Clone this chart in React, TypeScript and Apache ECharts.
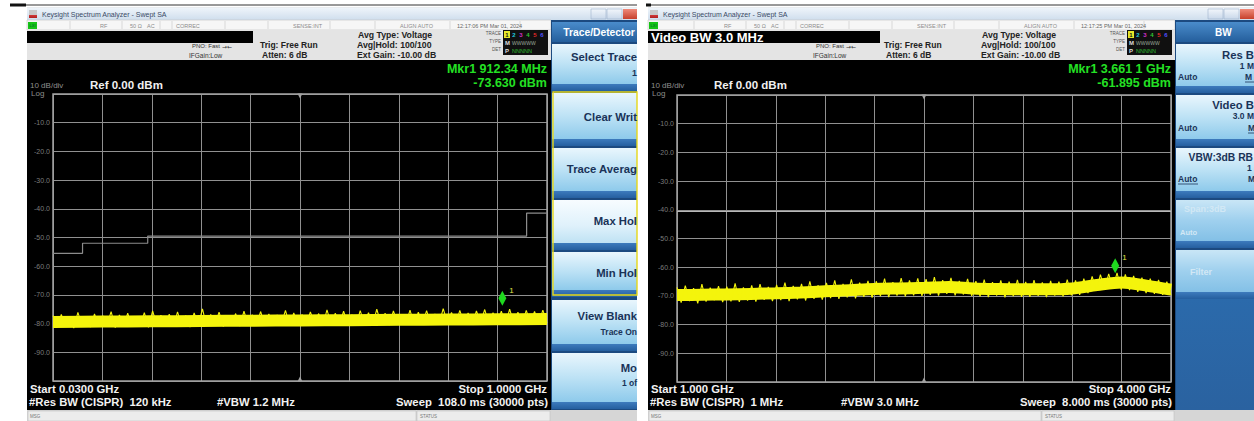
import React, { useEffect, useRef } from 'react';
import * as echarts from 'echarts';

// ---------- DATA ----------
const LEFT_START_MHZ = 30;
const LEFT_STOP_MHZ = 1000;
const RIGHT_START_MHZ = 1000;
const RIGHT_STOP_MHZ = 4000;
const Y_MIN = -100;
const Y_MAX = 0;
const Y_STEP = 10;

// left trace (dBm), evenly spaced sweep points across 30 MHz - 1 GHz
const leftTrace = [
  -77.2, -81.3, -76.8, -80.9, -77.5, -81.6, -76.1, -80.7, -77.9, -81.2,
  -76.6, -81.0, -77.3, -80.5, -75.8, -81.4, -77.0, -80.8, -76.4, -81.1,
  -77.6, -80.6, -76.2, -81.3, -75.6, -80.4, -77.1, -81.0, -76.7, -80.9,
  -75.9, -80.7, -77.2, -81.2, -76.3, -80.5, -74.9, -80.8, -76.8, -80.6,
  -76.0, -81.0, -77.4, -80.3, -76.5, -80.9, -75.7, -80.4, -76.9, -80.7,
  -75.8, -80.2, -76.6, -80.8, -77.0, -80.1, -75.4, -80.6, -76.3, -80.3,
  -76.8, -80.5, -75.9, -80.0, -76.5, -80.7, -75.2, -80.2, -76.4, -80.4,
  -75.7, -80.1, -76.9, -80.6, -75.5, -79.9, -76.2, -80.3, -75.0, -80.0,
  -76.4, -80.5, -75.6, -79.8, -76.7, -80.2, -75.3, -80.4, -76.0, -79.9,
  -75.5, -80.3, -76.6, -80.0, -74.8, -79.7, -76.1, -80.2, -75.4, -79.9,
  -76.3, -80.1, -75.6, -79.6, -75.1, -80.0, -76.2, -79.8, -75.7, -80.1,
  -75.0, -79.7, -76.0, -80.2, -75.4, -79.6, -75.8, -79.9, -75.3, -79.8,
];
// band centre of the left trace at each division (0..10)
const leftTraceMean = [-79.4, -79.3, -79.2, -79.1, -79.0, -78.9, -78.8, -78.7, -78.6, -78.5, -78.4];

// right trace (dBm), evenly spaced sweep points across 1 - 4 GHz
const rightTrace = [
  -67.0, -72.3, -66.4, -71.8, -67.3, -72.6, -65.9, -72.0, -67.1, -71.5, -66.6, -72.2,
  -66.8, -71.9, -65.6, -72.1, -67.0, -71.6, -66.3, -72.0, -65.9, -71.4, -66.9, -71.8,
  -66.2, -71.5, -65.4, -71.8, -66.5, -71.2, -65.8, -71.6, -64.9, -71.0, -66.3, -71.3,
  -65.5, -70.8, -64.6, -71.0, -65.8, -70.5, -64.2, -70.9, -65.4, -70.3, -64.8, -70.6,
  -64.9, -70.1, -64.0, -70.4, -65.2, -69.9, -63.8, -70.2, -64.6, -69.8, -63.9, -70.0,
  -64.2, -69.6, -63.5, -69.9, -64.5, -69.3, -63.7, -69.8, -64.8, -69.5, -64.1, -70.0,
  -64.9, -70.2, -64.3, -70.4, -65.2, -69.9, -64.6, -70.5, -65.0, -70.1, -64.4, -70.3,
  -65.1, -70.3, -64.5, -70.0, -65.3, -70.4, -64.8, -69.9, -65.0, -70.2, -64.3, -69.8,
  -64.6, -69.6, -64.0, -69.0, -63.2, -68.2, -62.6, -67.6, -62.3, -67.4, -62.0, -67.8,
  -62.5, -68.0, -63.0, -68.6, -63.6, -69.0, -64.0, -69.3, -64.4, -69.6, -65.0, -69.8,
];
// band centre of the right trace at each half division (0, 0.5, ... 10)
const rightTraceMean = [
  -69.7, -69.6, -69.5, -69.3, -69.1, -68.8, -68.4, -68.0, -67.6, -67.4, -67.2,
  -66.9, -67.4, -67.6, -67.7, -67.7, -67.4, -66.2, -65.3, -66.4, -67.8,
];

// limit line shown on the left screen (MHz, dBm)
const limitFreqs = [30, 88, 216, 960, 1000];
const limitLevels = [-55.5, -52.0, -49.5, -41.5, -41.5];

const leftMarker = [912.34, -73.63];
const rightMarker = [3661.1, -61.895];
const rightDisplayLine = -40.6;

// ---------- helpers ----------
const FONT = '"Liberation Sans", Arial, sans-serif';

function txt(x: number, y: number, s: string, o: any = {}) {
  const align = o.align || 'left';
  return {
    type: 'text',
    x,
    y,
    z: o.z ?? 20,
    silent: true,
    style: {
      text: s,
      fill: o.color || '#222',
      fontSize: o.size || 8,
      fontWeight: o.weight || 'normal',
      fontFamily: o.family || FONT,
      align,
      verticalAlign: 'middle',
      textAlign: align,
      textVerticalAlign: 'middle',
    },
  };
}
function rect(x: number, y: number, w: number, h: number, fill: any, o: any = {}) {
  return {
    type: 'rect',
    z: o.z ?? -10,
    silent: true,
    shape: { x, y, width: w, height: h },
    style: { fill, stroke: o.stroke || null, lineWidth: o.lineWidth || 0 },
  };
}
function ln(x1: number, y1: number, x2: number, y2: number, stroke: string, w = 1, z = 15) {
  return { type: 'line', z, silent: true, shape: { x1, y1, x2, y2 }, style: { stroke, lineWidth: w } };
}
function vgrad(stops: [number, string][]) {
  return new echarts.graphic.LinearGradient(0, 0, 0, 1, stops.map(([offset, color]) => ({ offset, color })));
}

function windowChrome(p: any) {
  const o = p.o;
  const els: any[] = [];
  // frame + title
  els.push(rect(p.x0, 7, p.x1 - p.x0, 414, '#e9ecef', { z: -30 }));
  els.push(rect(p.x0, 8, p.x1 - p.x0, 12, vgrad([[0, '#eef4fa'], [1, '#cfdeed']]), { z: -29 }));
  els.push(rect(p.x0 + 2, 10, 8, 8, vgrad([[0, '#c8c8c8'], [0.6, '#c8c8c8'], [0.61, '#d23a3a'], [1, '#b02020']]), { z: 5 }));
  els.push(txt(p.x0 + 15, 14, 'Keysight Spectrum Analyzer - Swept SA', { size: 7, color: '#3a4a66' }));
  // window controls
  els.push(rect(p.x1 - 46, 9, 15, 10, vgrad([[0, '#f2f6fb'], [1, '#c9d8ea']]), { z: 5, stroke: '#9fb3cc', lineWidth: 0.6 }));
  els.push(rect(p.x1 - 30, 9, 15, 10, vgrad([[0, '#f2f6fb'], [1, '#c9d8ea']]), { z: 5, stroke: '#9fb3cc', lineWidth: 0.6 }));
  els.push(rect(p.x1 - 14, 9, 14, 10, vgrad([[0, '#ef8a7a'], [1, '#c7402c']]), { z: 5 }));
  // status row
  els.push(rect(p.x0, 20, p.dispR - p.x0, 10, '#f6f6f6', { z: -28, stroke: '#c4c4c4', lineWidth: 0.6 }));
  els.push(rect(p.x0 + 1, 22, 9, 7, '#16c416', { z: 6 }));
  els.push(txt(p.x0 + 5.5, 25.5, 'LXI', { size: 4, color: '#053', align: 'center' }));
  [70, 122, 160, 172, 225, 268, 330, 375, 450, 520].forEach((x) => {
    if (x + o < p.dispR - 2) els.push(ln(x + o, 21, x + o, 29, '#c8c8c8', 0.6, 6));
  });
  const st = { size: 5.5, color: '#8c8c8c' };
  els.push(txt(100 + o, 25.5, 'RF', st));
  els.push(txt(130 + o, 25.5, '50 Ω', st));
  els.push(txt(147 + o, 25.5, 'AC', st));
  els.push(txt(176 + o, 25.5, 'CORREC', st));
  els.push(txt(293 + o, 25.5, 'SENSE:INT', st));
  els.push(txt(400 + o, 25.5, 'ALIGN AUTO', st));
  els.push(txt(457 + o, 25.5, p.time, { size: 5.5, color: '#666' }));
  // gray settings area
  els.push(rect(p.x0, 30, p.dispR - p.x0, 30, '#e4e4e4', { z: -27 }));
  els.push(rect(p.x0, 31, p.blackBarR - p.x0, 12, '#000', { z: -26 }));
  if (p.barText) els.push(txt(p.x0 + 3, 37, p.barText, { size: 13, weight: 'bold', color: '#fff' }));
  els.push(txt(192 + o, 46, 'PNO: Fast', { size: 6, color: '#333' }));
  els.push(txt(222 + o, 46, '→←', { size: 6, color: '#333', family: '"DejaVu Sans", sans-serif' }));
  els.push(txt(189 + o, 55, 'IFGain:Low', { size: 6.5, color: '#333' }));
  els.push(txt(260 + o, 44.5, 'Trig: Free Run', { size: 8.5, weight: 'bold', color: '#222' }));
  els.push(txt(262 + o, 55, 'Atten: 6 dB', { size: 8.5, weight: 'bold', color: '#222' }));
  els.push(txt(358 + o, 35, 'Avg Type: Voltage', { size: 8.7, weight: 'bold', color: '#222' }));
  els.push(txt(357 + o, 44.5, 'Avg|Hold: 100/100', { size: 8.7, weight: 'bold', color: '#222' }));
  els.push(txt(357 + o, 54.5, 'Ext Gain: -10.00 dB', { size: 8.7, weight: 'bold', color: '#222' }));
  // trace box
  els.push(txt(501 + o, 33.5, 'TRACE', { size: 4.5, color: '#555', align: 'right' }));
  els.push(txt(501 + o, 41.5, 'TYPE', { size: 4.5, color: '#555', align: 'right' }));
  els.push(txt(501 + o, 49.5, 'DET', { size: 4.5, color: '#555', align: 'right' }));
  els.push(rect(503 + o, 30, 45, 25, '#101010', { z: 4 }));
  els.push(rect(504 + o, 31, 6, 7, '#e6e62a', { z: 5 }));
  const tc = ['#111', '#22c8dc', '#d030c8', '#30c830', '#e02828', '#5050ff'];
  ['1', '2', '3', '4', '5', '6'].forEach((d, i) => els.push(txt(507 + o + i * 7, 34.5, d, { size: 6, weight: 'bold', color: tc[i], align: 'center' })));
  els.push(txt(505 + o, 42.5, 'M', { size: 6, weight: 'bold', color: '#ddd' }));
  els.push(txt(512 + o, 42.5, 'WWWWW', { size: 5, color: '#9aa89a' }));
  els.push(txt(505 + o, 50.5, 'P', { size: 6, weight: 'bold', color: '#ddd' }));
  els.push(txt(512 + o, 50.5, 'NNNNN', { size: 5.5, color: '#2fbf2f' }));
  // display area
  els.push(rect(p.x0, 60, p.dispR - p.x0, 350, '#000', { z: -25 }));
  els.push(txt(p.mkrR, 69, p.mkr1, { size: 12.5, weight: 'bold', color: '#24e024', align: 'right' }));
  els.push(txt(p.mkrR, 82.5, p.mkr2, { size: 12.5, weight: 'bold', color: '#24e024', align: 'right' }));
  els.push(txt(p.x0 + 3, 85.5, '10 dB/div', { size: 8, color: '#8e8e8e' }));
  els.push(txt(p.x0 + 4, 93.5, 'Log', { size: 8, color: '#8e8e8e' }));
  els.push(txt(90 + o, 85, 'Ref 0.00 dBm', { size: 11.5, weight: 'bold', color: '#f0f0f0' }));
  const bt = { size: 11.3, weight: 'bold', color: '#f2f2f2' };
  els.push(txt(p.x0 + 3, 388.5, p.start, bt));
  els.push(txt(p.x0 + 2, 402, p.rbw, bt));
  els.push(txt(217 + o, 402, p.vbw, bt));
  els.push(txt(p.mkrR, 389, p.stop, { ...bt, align: 'right' }));
  els.push(txt(p.mkrR + 1, 402, p.sweep, { ...bt, align: 'right' }));
  // msg bar
  els.push(rect(p.x0, 410, p.x1 - p.x0, 11, '#d6d6d6', { z: -24 }));
  els.push(rect(p.x0 + 1, 411, p.statusX - p.x0 - 3, 10, '#ececec', { z: -23, stroke: '#bbb', lineWidth: 0.5 }));
  els.push(rect(p.statusX - 1, 411, p.dispR - p.statusX, 10, '#ececec', { z: -23, stroke: '#bbb', lineWidth: 0.5 }));
  els.push(txt(p.x0 + 3, 416, 'MSG', { size: 4.5, color: '#777' }));
  els.push(txt(p.statusX + 2, 416, 'STATUS', { size: 4.5, color: '#777' }));
  // softkey panel background
  els.push(rect(p.dispR, 20, p.x1 - p.dispR, 390, '#1c4a80', { z: -22 }));
  els.push(rect(p.dispR + 1, 22, p.x1 - p.dispR - 1, 20, vgrad([[0, '#4a8ccb'], [1, '#245e9c']]), { z: -21 }));
  return els;
}

function button(x: number, x1: number, y0: number, y1: number, light = false, faded = false) {
  const g = faded
    ? vgrad([[0, '#c9e6f6'], [0.5, '#9fd0ee'], [1, '#83c0e6']])
    : light
    ? vgrad([[0, '#f7fcff'], [0.6, '#dff1fb'], [1, '#bfe2f4']])
    : vgrad([[0, '#e9f6fd'], [0.5, '#bde2f5'], [1, '#8ecaeb']]);
  return [
    rect(x, y0, x1 - x, y1 - y0 - 7, g, { z: -20 }),
    rect(x, y1 - 7, x1 - x, 7, vgrad([[0, '#3d7bbd'], [1, '#255f9f']]), { z: -20 }),
  ];
}

function leftSoftkeys() {
  const x = 552, x1 = 637;
  const els: any[] = [];
  els.push(txt(599, 32, 'Trace/Detector', { size: 10.3, weight: 'bold', color: '#fff', align: 'center' }));
  const btns: [number, number, boolean][] = [
    [44, 91, false], [93, 146, false], [148, 198, false], [200, 250, true],
    [252, 297, false], [300, 351, false], [353, 409, false],
  ];
  btns.forEach(([a, b, l]) => els.push(...button(x, x1, a, b, l)));
  const kt = { size: 11.3, weight: 'bold', color: '#1a3358', align: 'right' };
  els.push(txt(637, 57, 'Select Trace', kt));
  els.push(txt(637, 73, '1', { ...kt, size: 9 }));
  els.push(txt(637, 116.5, 'Clear Writ', kt));
  els.push(txt(637, 168.5, 'Trace Averag', kt));
  els.push(txt(637, 220.5, 'Max Hol', kt));
  els.push(txt(637, 272.5, 'Min Hol', kt));
  els.push(txt(637, 316, 'View Blank', kt));
  els.push(txt(637, 331.5, 'Trace On', { ...kt, size: 8.5 }));
  els.push(txt(637, 367.5, 'Mo', kt));
  els.push(txt(637, 383, '1 of', { ...kt, size: 8.5 }));
  els.push({
    type: 'rect', z: 18, silent: true,
    shape: { x: 553, y: 92, width: 84, height: 203 },
    style: { fill: null, stroke: '#e6d81a', lineWidth: 1.4 },
  });
  return els;
}

function rightSoftkeys() {
  const x = 1176, x1 = 1254;
  const els: any[] = [];
  els.push(txt(1215, 32, 'BW', { size: 10, weight: 'bold', color: '#fff' }));
  els.push(...button(x, x1, 44, 93));
  els.push(...button(x, x1, 95, 146));
  els.push(...button(x, x1, 148, 198));
  els.push(...button(x, x1, 200, 248, false, true));
  els.push(...button(x, x1, 250, 299, false, true));
  els.push(rect(x, 299, x1 - x, 111, vgrad([[0, '#2b6aab'], [1, '#2a62a0']]), { z: -20 }));
  const kt = { size: 11.3, weight: 'bold', color: '#1a3358' };
  const sm = { size: 8.5, weight: 'bold', color: '#1a3358' };
  els.push(txt(1254, 55, 'Res B', { ...kt, align: 'right' }));
  els.push(txt(1254, 66, '1 M', { ...sm, align: 'right' }));
  els.push(txt(1178, 77, 'Auto', sm));
  els.push(txt(1245, 77, 'M', sm));
  els.push(ln(1245, 82, 1254, 82, '#1a3358', 0.8, 20));
  els.push(txt(1254, 105, 'Video B', { ...kt, align: 'right' }));
  els.push(txt(1254, 116, '3.0 M', { ...sm, align: 'right' }));
  els.push(txt(1178, 127.5, 'Auto', sm));
  els.push(txt(1248, 128, 'M', sm));
  els.push(ln(1248, 133, 1254, 133, '#1a3358', 0.8, 20));
  els.push(txt(1253, 157, 'VBW:3dB RB', { ...kt, size: 10.3, align: 'right' }));
  els.push(txt(1247, 168, '1', sm));
  els.push(txt(1178, 179, 'Auto', sm));
  els.push(ln(1178, 184, 1198, 184, '#1a3358', 0.8, 20));
  els.push(txt(1248, 179, 'M', sm));
  const fd = { size: 9, weight: 'bold', color: '#d2e8f5' };
  els.push(txt(1184, 209, 'Span:3dB', fd));
  els.push(txt(1180, 232, 'Auto', { ...fd, size: 7.5 }));
  els.push(txt(1190, 272, 'Filter', fd));
  return els;
}

function topLines() {
  return [
    ln(10, 5, 637, 5, '#333', 1, 20),
    rect(10, 3.5, 16, 3, '#111', { z: 21 }),
    ln(648, 5, 1254, 5, '#333', 1, 20),
    rect(646, 3.5, 5, 3, '#111', { z: 21 }),
  ];
}

// ---------- chart ----------
export default function App() {
  const ref = useRef<HTMLDivElement>(null);

  useEffect(() => {
    document.body.style.margin = '0';
    const chart = echarts.init(ref.current!, undefined, { renderer: 'svg' });

    const leftPts = leftTrace.map((v, i) => [LEFT_START_MHZ + (i * (LEFT_STOP_MHZ - LEFT_START_MHZ)) / (leftTrace.length - 1), v]);
    const leftMeanPts = leftTraceMean.map((v, i) => [LEFT_START_MHZ + (i * (LEFT_STOP_MHZ - LEFT_START_MHZ)) / (leftTraceMean.length - 1), v]);
    const rightPts = rightTrace.map((v, i) => [RIGHT_START_MHZ + (i * (RIGHT_STOP_MHZ - RIGHT_START_MHZ)) / (rightTrace.length - 1), v]);
    const rightMeanPts = rightTraceMean.map((v, i) => [RIGHT_START_MHZ + (i * (RIGHT_STOP_MHZ - RIGHT_START_MHZ)) / (rightTraceMean.length - 1), v]);
    const limitPts = limitFreqs.map((f, i) => [f, limitLevels[i]]);

    const divAxis = (gridIndex: number) => ({
      gridIndex,
      type: 'value',
      min: 0,
      max: 10,
      interval: 1,
      axisLine: { show: false },
      axisTick: { show: false },
      axisLabel: { show: false },
      splitLine: { show: true, lineStyle: { color: '#909090', width: 1 } },
    });
    const yAx = (gridIndex: number) => ({
      gridIndex,
      type: 'value',
      min: Y_MIN,
      max: Y_MAX,
      interval: Y_STEP,
      axisLine: { show: false },
      axisTick: { show: false },
      axisLabel: {
        show: true,
        margin: 3,
        fontSize: 7,
        color: '#7c7c7c',
        fontFamily: FONT,
        formatter: (v: number) => (v === 0 || v === -100 ? '' : v.toFixed(1)),
      },
      splitLine: { show: true, lineStyle: { color: '#909090', width: 1 } },
    });

    const marker = (coord: number[]) => ({
      symbol: 'diamond',
      symbolSize: [8, 15],
      symbolOffset: [0, -7],
      itemStyle: { color: '#1fd81f' },
      label: { show: true, formatter: '1', position: 'right', offset: [-2, -8], color: '#e4e44a', fontSize: 8, fontFamily: FONT },
      data: [{ coord }],
    });
    const centerMarks = (c: number) => ({
      symbol: 'triangle',
      symbolSize: 5,
      itemStyle: { color: '#a0a0a0' },
      label: { show: false },
      data: [
        { coord: [c, Y_MAX], symbolRotate: 180, symbolOffset: [0, 2] },
        { coord: [c, Y_MIN], symbolOffset: [0, -2] },
      ],
    });

    const traceStyle = { color: '#f4f40c' };

    const graphic = [
      ...windowChrome({
        o: 0, x0: 27, x1: 637, dispR: 551, blackBarR: 253, mkrR: 547, statusX: 418,
        time: '12:17:06 PM Mar 01, 2024', barText: '',
        mkr1: 'Mkr1 912.34 MHz', mkr2: '-73.630 dBm',
        start: 'Start 0.0300 GHz', rbw: '#Res BW (CISPR)  120 kHz', vbw: '#VBW 1.2 MHz',
        stop: 'Stop 1.0000 GHz', sweep: 'Sweep  108.0 ms (30000 pts)',
      }),
      ...windowChrome({
        o: 624, x0: 648, x1: 1254, dispR: 1175, blackBarR: 880, mkrR: 1171, statusX: 1043,
        time: '12:17:25 PM Mar 01, 2024', barText: 'Video BW 3.0 MHz',
        mkr1: 'Mkr1 3.661 1 GHz', mkr2: '-61.895 dBm',
        start: 'Start 1.000 GHz', rbw: '#Res BW (CISPR)  1 MHz', vbw: '#VBW 3.0 MHz',
        stop: 'Stop 4.000 GHz', sweep: 'Sweep  8.000 ms (30000 pts)',
      }),
      ...leftSoftkeys(),
      ...rightSoftkeys(),
      ...topLines(),
    ];

    chart.setOption({
      animation: false,
      backgroundColor: '#ffffff',
      grid: [
        { left: 53, top: 94, width: 494, height: 287, show: true, backgroundColor: 'transparent', borderColor: '#a3a3a3', borderWidth: 1.5, z: 1 },
        { left: 677, top: 95, width: 494, height: 287, show: true, backgroundColor: 'transparent', borderColor: '#a3a3a3', borderWidth: 1.5, z: 1 },
      ],
      xAxis: [
        { gridIndex: 0, type: 'value', min: LEFT_START_MHZ, max: LEFT_STOP_MHZ, show: false },
        divAxis(0),
        { gridIndex: 1, type: 'value', min: RIGHT_START_MHZ, max: RIGHT_STOP_MHZ, show: false },
        divAxis(1),
      ],
      yAxis: [yAx(0), yAx(1)],
      graphic,
      series: [
        {
          type: 'line', xAxisIndex: 0, yAxisIndex: 0, data: limitPts, step: 'end', showSymbol: false,
          lineStyle: { color: '#8c8c8c', width: 1.2 }, z: 3,
          markPoint: centerMarks((LEFT_START_MHZ + LEFT_STOP_MHZ) / 2),
        },
        {
          type: 'line', xAxisIndex: 0, yAxisIndex: 0, data: leftMeanPts, showSymbol: false, smooth: 0.3,
          lineStyle: { ...traceStyle, width: 12 }, z: 4,
        },
        {
          type: 'line', xAxisIndex: 0, yAxisIndex: 0, data: leftPts, showSymbol: false,
          lineStyle: { ...traceStyle, width: 1.1 }, z: 5,
          markPoint: marker(leftMarker),
        },
        {
          type: 'line', xAxisIndex: 2, yAxisIndex: 1, data: rightMeanPts, showSymbol: false, smooth: 0.3,
          lineStyle: { ...traceStyle, width: 12 }, z: 4,
          markLine: {
            symbol: 'none', silent: true, label: { show: false },
            lineStyle: { color: '#b8b8b8', width: 1.2, type: 'solid' },
            data: [{ yAxis: rightDisplayLine }],
          },
          markPoint: centerMarks((RIGHT_START_MHZ + RIGHT_STOP_MHZ) / 2),
        },
        {
          type: 'line', xAxisIndex: 2, yAxisIndex: 1, data: rightPts, showSymbol: false,
          lineStyle: { ...traceStyle, width: 1.1 }, z: 5,
          markPoint: marker(rightMarker),
        },
      ],
    });

    return () => chart.dispose();
  }, []);

  return (
    <div
      ref={ref}
      style={{ position: 'absolute', left: 0, top: 0, width: 1254, height: 421, background: '#fff' }}
    />
  );
}
